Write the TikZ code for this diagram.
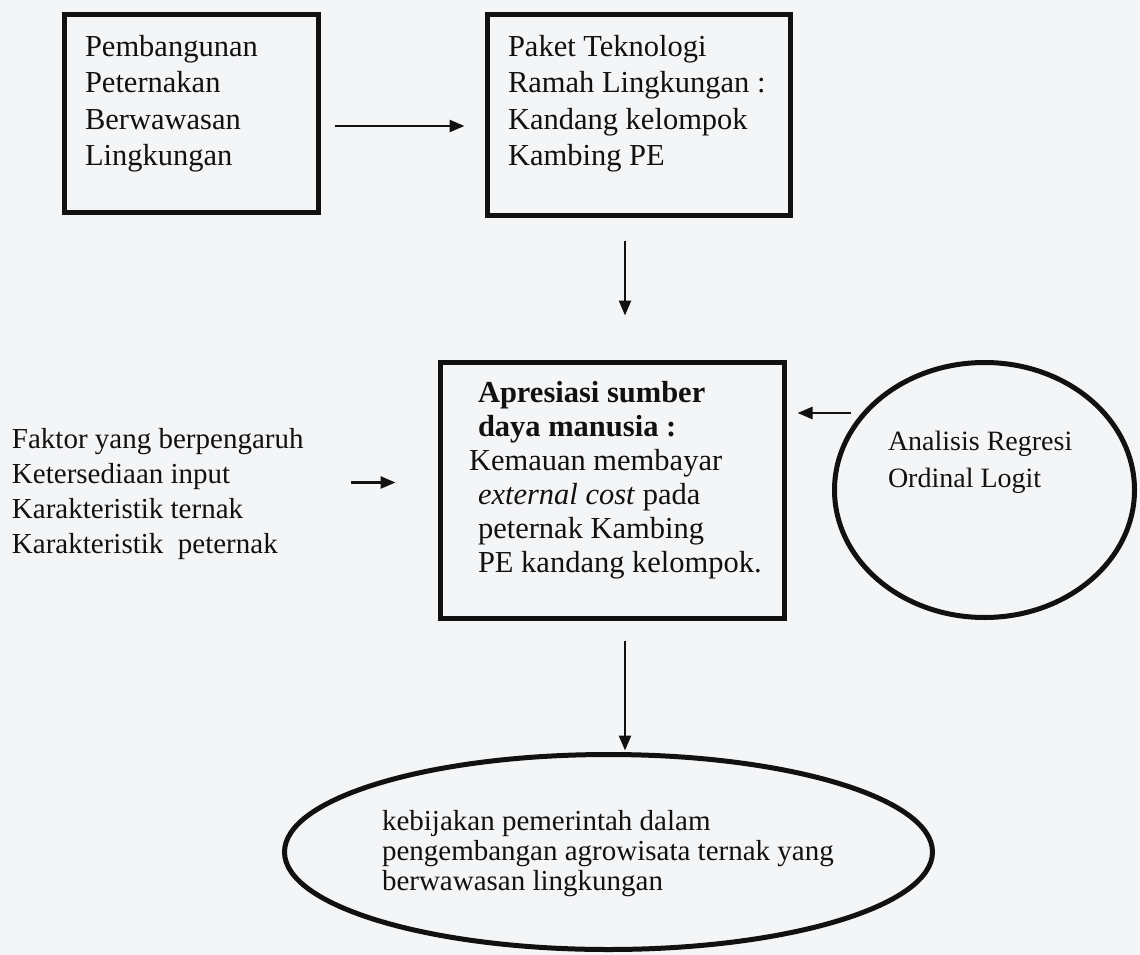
\documentclass[tikz,border=0pt]{standalone}
\usepackage{fontspec}
\setmainfont{Liberation Serif}
\usetikzlibrary{arrows.meta,shapes.geometric,calc}
\definecolor{paper}{RGB}{244,245,247}
\definecolor{ink}{RGB}{17,17,17}
\begin{document}
\begin{tikzpicture}[x=1pt,y=-1pt,
  framebox/.style={draw=ink,line width=5pt,rectangle,inner sep=0pt,outer sep=0pt},
  oval/.style={draw=ink,line width=5pt,ellipse,inner sep=0pt,outer sep=0pt},
  txt/.style={anchor=north west,inner sep=0pt,outer sep=0pt,align=left,text=ink},
  arr/.style={draw=ink,line width=2.5pt,-{Triangle[length=15pt,width=12pt]}}]
\useasboundingbox (0,0) rectangle (1140,955);
\fill[paper] (0,0) rectangle (1140,955);
% frames
\node[framebox,minimum width=254pt,minimum height=198pt] (b1) at (191.5,113.5) {};
\node[framebox,minimum width=303pt,minimum height=201pt] (b2) at (639,115) {};
\node[framebox,minimum width=344pt,minimum height=256pt] (b3) at (612.5,490.5) {};
\node[oval,minimum width=300pt,minimum height=255pt] (e1) at (984.5,490) {};
\node[oval,minimum width=648pt,minimum height=195pt] (e2) at (608.5,852) {};
% texts
\node[txt,font=\fontsize{30.5}{36.5}\selectfont] (t1) at (85,35)
  {Pembangunan\\Peternakan\\Berwawasan\\Lingkungan};
\node[txt,font=\fontsize{30.5}{36.5}\selectfont] (t2) at (508,35)
  {Paket Teknologi\\Ramah Lingkungan :\\Kandang kelompok\\Kambing PE};
\node[txt,font=\fontsize{30.5}{34}\selectfont] (t3) at (469,381)
  {\hspace*{9pt}{\bfseries Apresiasi sumber}\\\hspace*{9pt}{\bfseries daya manusia :}\\Kemauan membayar\\\hspace*{9pt}\textit{external cost} pada\\\hspace*{9pt}peternak Kambing\\\hspace*{9pt}PE kandang kelompok.};
\node[txt,font=\fontsize{29}{35}\selectfont] (t4) at (12,428)
  {Faktor yang berpengaruh\\Ketersediaan input\\Karakteristik ternak\\Karakteristik\ \ peternak};
\node[txt,font=\fontsize{28}{37}\selectfont] (t5) at (888,431)
  {Analisis Regresi\\Ordinal Logit};
\node[txt,font=\fontsize{29}{30}\selectfont] (t6) at (382,810)
  {kebijakan pemerintah dalam\\pengembangan agrowisata ternak yang\\berwawasan lingkungan};
% connectors
\draw[arr] ($(b1.east)+(16,12.5)$) -- ($(b2.west)+(-23,11)$);
\draw[arr] ($(b2.south)+(-14,25)$) -- ($(b2.south)+(-14,100)$);
\draw[arr] ($(b3.west)+(-90,-8)$) -- ($(b3.west)+(-45,-8)$);
\draw[arr] ($(e1.west)+(16,-77)$) -- ($(b3.east)+(13,-77.5)$);
\draw[arr] ($(b3.south)+(12.5,22)$) -- ($(e2.north)+(16.5,-4)$);
\end{tikzpicture}
\end{document}
